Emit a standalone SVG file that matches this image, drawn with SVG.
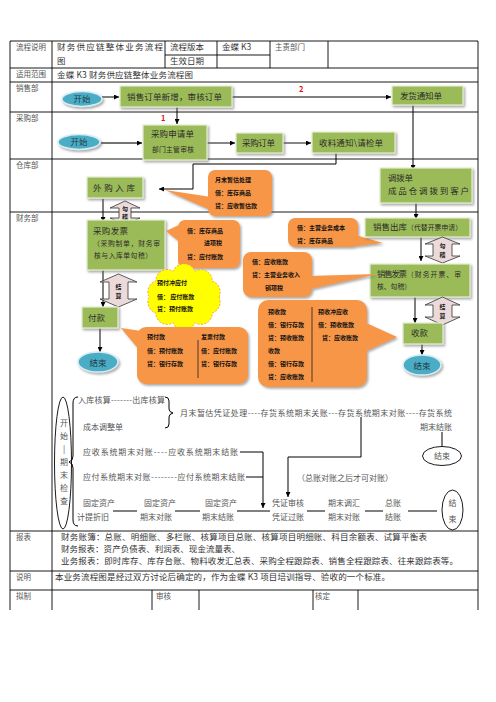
<svg xmlns="http://www.w3.org/2000/svg" width="496" height="702" viewBox="0 0 496 702">
<defs>
<style>
text{font-family:"Noto Sans CJK SC","Noto Sans",sans-serif}
.lab{font-size:7.5px;fill:#555}
.tb{font-size:8.5px;fill:#333}
.tl{stroke:#000;stroke-width:0.9;fill:none}
.bx{fill:#9bbb59;stroke:#e4edd3;stroke-width:1.2}
.bt{font-size:8.5px;fill:#2b2b2b}
.bs{font-size:6.8px;fill:#2b2b2b}
.co{fill:#f79646}
.ct{font-size:6px;font-weight:bold;fill:#111}
.ln{stroke:#000;stroke-width:1;fill:none}
.lg{stroke:#444;stroke-width:1.3;fill:none}
.da{fill:#ecdada;stroke:#333;stroke-width:0.8}
.dt{font-size:6px;font-weight:bold;fill:#222;text-anchor:middle}
.el{fill:#4bacc6;stroke:#d6edf4;stroke-width:1.5}
.et{font-size:8.5px;fill:#1d3c44;text-anchor:middle}
.pe{font-size:8px;fill:#555}
.oe{fill:#fff;stroke:#000;stroke-width:0.9}
.red{font-size:7.5px;font-weight:bold;fill:#e01010}
</style>
<filter id="sh" x="-10%" y="-10%" width="130%" height="140%"><feDropShadow dx="1.5" dy="1.8" stdDeviation="0.8" flood-color="#666" flood-opacity="0.55"/></filter>
<marker id="ah" viewBox="0 0 6 6" markerWidth="5" markerHeight="5" refX="6" refY="3" orient="auto" markerUnits="userSpaceOnUse"><path d="M0,0 L6,3 L0,6 Z" fill="#000"/></marker>
</defs>
<rect width="496" height="702" fill="#fff"/>

<g id="table">
<path class="tl" d="M10,41 H478 M10,68 H478 M10,82 H478 M10,112 H478 M10,159 H478 M10,212 H478 M10,531 H478 M10,571 H478 M10,590 H478 M165,55 H270 M10,41 V610 M52,41 V610 M478,41 V610 M165,41 V68 M217,41 V68 M270,41 V68 M328,41 V68 M152,590 V610 M199,590 V610 M313,590 V610 M358,590 V610"/>
<text class="lab" x="16" y="50">流程说明</text>
<text class="tb" x="57" y="50" font-size="9" textLength="106">财务供应链整体业务流程</text>
<text class="tb" x="57" y="64" font-size="9">图</text>
<text class="tb" x="170" y="50">流程版本</text>
<text class="tb" x="170" y="64">生效日期</text>
<text class="tb" x="222" y="50">金蝶 K3</text>
<text class="lab" x="275" y="50" font-size="8.5">主责部门</text>
<text class="lab" x="16" y="77">适用范围</text>
<text class="tb" x="57" y="78" textLength="136">金蝶 K3 财务供应链整体业务流程图</text>
<text class="lab" x="16" y="91">销售部</text>
<text class="lab" x="16" y="121">采购部</text>
<text class="lab" x="16" y="168">仓库部</text>
<text class="lab" x="16" y="221">财务部</text>
<text class="lab" x="16" y="540">报表</text>
<text class="tb" x="61" y="540" textLength="366">财务账簿：总账、明细账、多栏账、核算项目总账、核算项目明细账、科目余额表、试算平衡表</text>
<text class="tb" x="61" y="552" textLength="179">财务报表：资产负债表、利润表、现金流量表、</text>
<text class="tb" x="61" y="564" textLength="397">业务报表：即时库存、库存台账、物料收发汇总表、采购全程跟踪表、销售全程跟踪表、往来跟踪表等。</text>
<text class="lab" x="16" y="580">说明</text>
<text class="tb" x="55" y="580" textLength="335">本业务流程图是经过双方讨论后确定的，作为金蝶 K3 项目培训指导、验收的一个标准。</text>
<text class="lab" x="16" y="599">拟制</text>
<text class="lab" x="156" y="599">审核</text>
<text class="lab" x="315" y="599">核定</text>
</g>

<g id="connectors">
<path class="ln" d="M102,97 H119" marker-end="url(#ah)"/>
<path class="ln" d="M232,97 H391" marker-end="url(#ah)"/>
<path class="ln" d="M177,107 V124" marker-end="url(#ah)"/>
<path class="lg" d="M101,143 H142" marker-end="url(#ah)"/>
<path class="lg" d="M207,143 H235" marker-end="url(#ah)"/>
<path class="lg" d="M283,143 H311" marker-end="url(#ah)"/>
<path class="ln" d="M336,153 V164 H193 V189 H159" marker-end="url(#ah)"/>
<path class="ln" d="M413,105 V170" marker-end="url(#ah)"/>
<path class="ln" d="M416,203 V219" marker-end="url(#ah)"/>
<path class="ln" d="M103,199 V222" marker-end="url(#ah)"/>
<path class="ln" d="M103,270 V307" marker-end="url(#ah)"/>
<path class="ln" d="M100,328 V352" marker-end="url(#ah)"/>
<path class="ln" d="M421,237 V261" marker-end="url(#ah)"/>
<path class="ln" d="M415,297 V323" marker-end="url(#ah)"/>
<path class="ln" d="M422,344 V355" marker-end="url(#ah)"/>
<text class="red" x="299" y="92">2</text>
<text class="red" x="161" y="121">1</text>
<path class="ln" d="M442,432 V446"/>
<path class="ln" d="M240,452 H263 V508" marker-end="url(#ah)"/>
<path class="ln" d="M246,477 H263"/>
<path class="ln" d="M361,417 V457 H288 V497" marker-end="url(#ah)"/>
<path class="ln" d="M113,511 H137 M175,511 H200 M237,511 H270 M307,511 H325 M365,511 H383 M408,511 H437"/>
</g>

<g id="n-start-sales"><ellipse class="el" cx="82" cy="99" rx="20" ry="7.5" filter="url(#sh)"/><text class="et" x="82" y="102">开始</text></g>
<g id="n-sales-order"><rect class="bx" x="120" y="86" width="112" height="21" filter="url(#sh)"/><text class="bt" x="127" y="100" textLength="95">销售订单新增，审核订单</text></g>
<g id="n-delivery"><rect class="bx" x="392" y="86" width="71" height="19" filter="url(#sh)"/><text class="bt" x="400" y="99" textLength="42">发货通知单</text></g>

<g id="n-start-purchase"><ellipse class="el" cx="79" cy="142" rx="21" ry="7.5" filter="url(#sh)"/><text class="et" x="79" y="145">开始</text></g>
<g id="n-pur-req"><rect class="bx" x="143" y="125" width="64" height="35" filter="url(#sh)"/><text class="bt" x="151" y="137" font-size="9" textLength="43">采购申请单</text><text class="bs" x="152" y="152" font-size="7" textLength="42">部门主管审核</text></g>
<g id="n-pur-order"><rect class="bx" x="236" y="133" width="47" height="20" filter="url(#sh)"/><text class="bt" x="242" y="146" textLength="33">采购订单</text></g>
<g id="n-receive"><rect class="bx" x="312" y="132" width="83" height="21" filter="url(#sh)"/><text class="bt" x="319" y="146" textLength="64">收料通知\请检单</text></g>

<g id="n-inbound"><rect class="bx" x="87" y="177" width="56" height="21" filter="url(#sh)"/><text class="bt" x="93" y="191" textLength="42">外购入库</text></g>
<g id="n-callout-est" class="co" filter="url(#sh)"><polygon points="211,197 165,190 215,212"/><rect x="208" y="170" width="64" height="46" rx="7"/></g>
<g id="t-callout-est"><text class="ct" x="215" y="182">月末暂估处理</text><text class="ct" x="215" y="195">借：库存商品</text><text class="ct" x="215" y="208">贷：应收暂估款</text></g>
<g id="n-transfer"><rect class="bx" x="380" y="168" width="92" height="35" filter="url(#sh)"/><text class="bt" x="388" y="181" textLength="25">调拨单</text><text class="bt" x="388" y="194" textLength="81">成品仓调拨到客户</text></g>

<g id="n-check1"><path class="da" d="M125,201 L140,208 L131,208 L131,218 L140,218 L125,225 L110,218 L119,218 L119,208 L110,208 Z"/><text class="dt" x="125" y="211">勾</text><text class="dt" x="125" y="219">稽</text></g>
<g id="n-pur-invoice"><rect class="bx" x="87" y="220" width="78" height="50" filter="url(#sh)"/><text class="bt" x="93" y="234" font-size="9" textLength="35">采购发票</text><text class="bs" x="93" y="246" textLength="67">（采购制单，财务审</text><text class="bs" x="94" y="258" textLength="58">核与入库单勾稽）</text></g>
<g id="n-callout-ap" class="co" filter="url(#sh)"><polygon points="181,224 166,231 181,243"/><rect x="178" y="220" width="62" height="48" rx="7"/></g>
<g id="t-callout-ap"><text class="ct" x="187" y="233">借：库存商品</text><text class="ct" x="204" y="245">进项税</text><text class="ct" x="187" y="259">贷：应付账款</text></g>
<g id="n-settle1"><path class="da" d="M118.5,274 L137,282 L128,282 L128,299 L137,299 L118.5,307 L100,299 L109,299 L109,282 L100,282 Z"/><text class="dt" x="118.5" y="289">结</text><text class="dt" x="118.5" y="298">算</text></g>
<g id="n-cloud"><path d="M219,297 A11.5,11.5 0 0 1 212.3,312.9 A11.5,11.5 0 0 1 194.8,322.7 A11.5,11.5 0 0 1 173.2,322.7 A11.5,11.5 0 0 1 155.7,312.9 A11.5,11.5 0 0 1 149,297 A11.5,11.5 0 0 1 155.7,281.1 A11.5,11.5 0 0 1 173.2,271.3 A11.5,11.5 0 0 1 194.8,271.3 A11.5,11.5 0 0 1 212.3,281.1 A11.5,11.5 0 0 1 219,297 Z" fill="#ffff00" stroke="#f79646" stroke-width="0.9" stroke-dasharray="2,1.5"/><text class="ct" x="157" y="285">预付冲应付</text><text class="ct" x="157" y="299">借：  应付账款</text><text class="ct" x="157" y="311">贷：预付账款</text></g>
<g id="n-pay"><rect class="bx" x="82" y="307" width="36" height="21" filter="url(#sh)"/><text class="bt" x="88" y="321" font-size="9">付款</text></g>
<g id="n-end-left"><ellipse class="el" cx="98" cy="362" rx="20" ry="10" filter="url(#sh)"/><text class="et" x="98" y="365.5" font-size="9">结束</text></g>
<g id="n-callout-pay" class="co" filter="url(#sh)"><polygon points="141,331 121,328 141,352"/><rect x="137" y="327" width="111" height="57" rx="9"/></g>
<g id="t-callout-pay"><line x1="198" y1="340" x2="198" y2="378" stroke="#222" stroke-width="0.8"/><text class="ct" x="147" y="339">预付款</text><text class="ct" x="147" y="353">借：预付账款</text><text class="ct" x="147" y="366">贷：银行存款</text><text class="ct" x="201" y="339">发票付款</text><text class="ct" x="201" y="353">借：应付账款</text><text class="ct" x="201" y="366">贷：银行存款</text></g>

<g id="n-callout-cost" class="co" filter="url(#sh)"><polygon points="352,234 383,243 348,247"/><rect x="288" y="218" width="70" height="29" rx="7"/></g>
<g id="t-callout-cost"><text class="ct" x="297" y="230">借：主营业务成本</text><text class="ct" x="297" y="243">贷：库存商品</text></g>
<g id="n-sales-out"><rect class="bx" x="365" y="218" width="105" height="19" filter="url(#sh)"/><text class="bt" x="373" y="230" textLength="34">销售出库</text><text class="bs" x="407" y="230" font-size="6.5" textLength="55">（代替开票申请）</text></g>
<g id="n-check2"><path class="da" d="M442.5,237 L460,244 L452,244 L452,256 L460,256 L442.5,263 L425,256 L433,256 L433,244 L425,244 Z"/><text class="dt" x="442.5" y="248">勾</text><text class="dt" x="442.5" y="257">稽</text></g>
<g id="n-sales-invoice"><rect class="bx" x="370" y="264" width="100" height="33" filter="url(#sh)"/><text class="bt" x="377" y="277" font-size="9" textLength="30">销售发票</text><text class="bs" x="407" y="277" textLength="54">（财务开票、审</text><text class="bs" x="377" y="289" textLength="34">核、勾稽）</text></g>
<g id="n-callout-ar" class="co" filter="url(#sh)"><polygon points="308,276 378,274 306,290"/><rect x="243" y="252" width="69" height="45" rx="8"/></g>
<g id="t-callout-ar"><text class="ct" x="252" y="264">借：应收账款</text><text class="ct" x="252" y="277">贷：主营业务收入</text><text class="ct" x="265" y="290">销项税</text></g>
<g id="n-settle2"><path class="da" d="M442.5,297 L460,305 L452,305 L452,317 L460,317 L442.5,325 L425,317 L433,317 L433,305 L425,305 Z"/><text class="dt" x="442.5" y="309">结</text><text class="dt" x="442.5" y="318">算</text></g>
<g id="n-receipt"><rect class="bx" x="403" y="323" width="40" height="21" filter="url(#sh)"/><text class="bt" x="411" y="336" font-size="9">收款</text></g>
<g id="n-end-right"><ellipse class="el" cx="422" cy="365" rx="19" ry="10" filter="url(#sh)"/><text class="et" x="422" y="368.5" font-size="9">结束</text></g>
<g id="n-callout-rec" class="co" filter="url(#sh)"><polygon points="364,322 397,337 364,352"/><rect x="258" y="300" width="109" height="87" rx="10"/></g>
<g id="t-callout-rec"><line x1="312" y1="307" x2="312" y2="382" stroke="#222" stroke-width="0.8"/><text class="ct" x="268" y="314">预收款</text><text class="ct" x="268" y="327">借：银行存款</text><text class="ct" x="268" y="340">贷：预收账款</text><text class="ct" x="268" y="353">收款</text><text class="ct" x="268" y="366">借：银行存款</text><text class="ct" x="268" y="379">贷：应收账款</text><text class="ct" x="318" y="314">预收冲应收</text><text class="ct" x="318" y="327">借：预收账款</text><text class="ct" x="322" y="340">贷：应收账款</text></g>

<g id="n-period-start"><ellipse class="oe" cx="63" cy="463" rx="8.5" ry="66"/><g class="pe" text-anchor="middle"><text x="64" y="426">开</text><text x="64" y="439">始</text><text x="64" y="452">|</text><text x="64" y="465">期</text><text x="64" y="478">末</text><text x="64" y="491">检</text><text x="64" y="504">查</text></g></g>
<g id="n-braces"><path class="ln" d="M78,397 Q73,397 73,403 V456 Q73,461 69,462 Q73,463 73,468 V520 Q73,526 78,526" stroke-width="0.9"/><path class="ln" d="M165,397 Q169,397 169,401 V409 Q169,412 173,413 Q169,414 169,417 V424 Q169,428 165,428" stroke-width="0.9"/></g>
<g id="n-stock"><text class="pe" x="78" y="403" textLength="87">入库核算-------出库核算</text><text class="pe" x="83" y="430">成本调整单</text><text class="pe" x="180" y="416" textLength="272">月末暂估凭证处理----存货系统期末关账---存货系统期末对账----存货系统</text><text class="pe" x="420" y="430">期末结账</text></g>
<g id="n-end-stock"><ellipse class="oe" cx="442" cy="456" rx="19.5" ry="9.5"/><text class="pe" x="442" y="459" text-anchor="middle">结束</text></g>
<g id="n-ar-close"><text class="pe" x="83" y="455" textLength="155">应收系统期末对账----应收系统期末结账</text></g>
<g id="n-ap-close"><text class="pe" x="83" y="480" textLength="162">应付系统期末对账--------应付系统期末结账</text></g>
<g id="n-note"><text class="pe" x="297" y="481" textLength="96">（总账对账之后才可对账）</text></g>
<g id="n-fa1"><text class="pe" x="83" y="506">固定资产</text><text class="pe" x="77" y="520">计提折旧</text></g>
<g id="n-fa2"><text class="pe" x="144" y="506">固定资产</text><text class="pe" x="140" y="520">期末对账</text></g>
<g id="n-fa3"><text class="pe" x="205" y="506">固定资产</text><text class="pe" x="202" y="520">期末结账</text></g>
<g id="n-voucher"><text class="pe" x="272" y="506">凭证审核</text><text class="pe" x="272" y="520">凭证过账</text></g>
<g id="n-fx"><text class="pe" x="328" y="506">期末调汇</text><text class="pe" x="328" y="520">期末对账</text></g>
<g id="n-gl"><text class="pe" x="385" y="506">总账</text><text class="pe" x="385" y="520">结账</text></g>
<g id="n-end-final"><ellipse class="oe" cx="452.5" cy="510" rx="10.5" ry="20"/><text class="pe" x="452.5" y="506" text-anchor="middle">结</text><text class="pe" x="452.5" y="522" text-anchor="middle">束</text></g>
</svg>
